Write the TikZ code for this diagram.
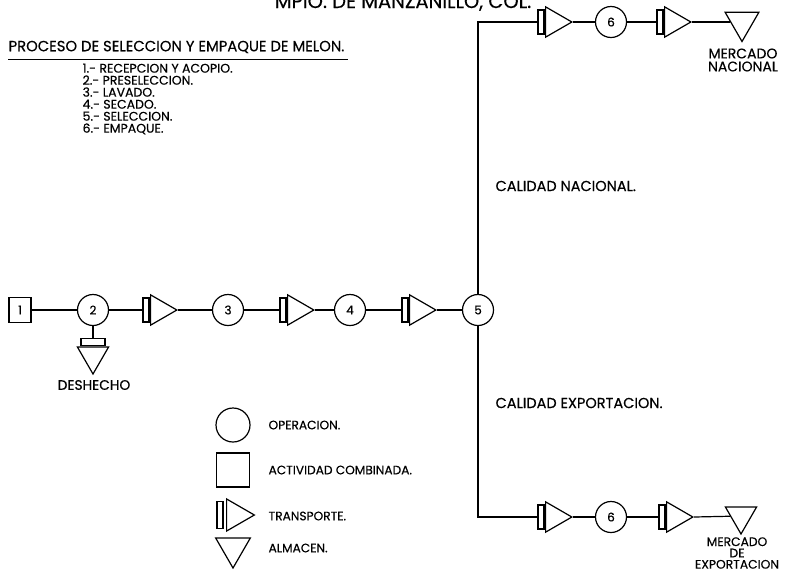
\documentclass[tikz,border=0pt]{standalone}
\usepackage{fontspec}
\setmainfont{Poppins}[FakeBold=0.35]
\usetikzlibrary{shapes.geometric}
\begin{document}
\begin{tikzpicture}[x=1pt,y=-1pt,line width=1.2pt,
  op/.style={circle,draw,minimum size=31pt,inner sep=0pt,font=\fontsize{12}{12}\selectfont},
  actbox/.style={rectangle,draw,inner sep=0pt,font=\fontsize{12}{12}\selectfont},
  vbar/.style={rectangle,draw,minimum width=6pt,minimum height=24pt,inner sep=0pt},
  hbar/.style={rectangle,draw,minimum width=24pt,minimum height=7pt,inner sep=0pt},
  rtri/.style={regular polygon,regular polygon sides=3,shape border rotate=-90,draw,minimum size=35pt,inner sep=0pt,anchor=west},
  dtri/.style={regular polygon,regular polygon sides=3,shape border rotate=180,draw,minimum size=39pt,inner sep=0pt},
  lbl/.style={font=\fontsize{14.5}{15}\selectfont,inner sep=0pt},
  lft/.style={lbl,anchor=west},
  leg/.style={font=\fontsize{12.2}{13}\selectfont,inner sep=0pt,anchor=west},
]
\useasboundingbox (0,0) rectangle (789,571);
\fill[white] (0,0) rectangle (789,571);

% headings
\node[font=\fontsize{19.5}{20}\selectfont,inner sep=0pt,anchor=base] (title) at (403,8) {MPIO. DE MANZANILLO, COL.};
\node[font=\fontsize{14.8}{15}\selectfont,inner sep=0pt,anchor=west] (proc) at (8,47) {PROCESO DE SELECCION Y EMPAQUE DE MELON.};
\coordinate (ulA) at (8,59);
\coordinate (ulB) at (348,59);
\draw[line width=1pt] (ulA) -- (ulB);
\node[anchor=north west,align=left,inner sep=0pt,font=\fontsize{12.5}{12}\selectfont] (list) at (82,63)
 {1.- RECEPCION Y ACOPIO.\\2.- PRESELECCION.\\3.- LAVADO.\\4.- SECADO.\\5.- SELECCION.\\6.- EMPAQUE.};

% main row
\node[actbox,minimum width=22pt,minimum height=25pt] (n1) at (20,310) {1};
\node[op] (n2) at (93,310) {2};
\node[vbar] (b1) at (146,310) {};
\node[rtri] (t1) at (150,310) {};
\node[op] (n3) at (228,310) {3};
\node[vbar] (b2) at (283,310) {};
\node[rtri] (t2) at (287,310) {};
\node[op] (n4) at (350,310) {4};
\node[vbar] (b3) at (405,310) {};
\node[rtri] (t3) at (409,310) {};
\node[op] (n5) at (478,310) {5};

\draw (n1) -- (n2);
\draw (n2) -- (b1);
\draw (t1.east) -- (n3);
\draw (n3) -- (b2);
\draw (t2.east) -- (n4);
\draw (n4) -- (b3);
\draw (t3.east) -- (n5);

% deshecho
\node[hbar] (db) at (93,342) {};
\node[dtri,minimum size=36pt] (dt) at (93,356) {};
\node[lbl,font=\fontsize{13.8}{14}\selectfont] (deslbl) at (94,385) {DESHECHO};
\draw (n2) -- (db);

% top branch
\node[vbar] (tb1) at (541,22) {};
\node[rtri] (tt1) at (545,22) {};
\node[op] (tn6) at (611,22) {6};
\node[vbar] (tb2) at (660,22) {};
\node[rtri] (tt2) at (664,22) {};
\node[dtri] (tst) at (742,22) {};
\node[lbl,align=center,font=\fontsize{14}{13}\selectfont] (nac) at (743,60) {MERCADO\\NACIONAL};
\draw (n5) |- (tb1);
\draw (tt1.east) -- (tn6);
\draw (tn6) -- (tb2);
\draw (tt2.east) -- (tst);

% bottom branch
\node[vbar] (bb1) at (541,517) {};
\node[rtri] (bt1) at (545,517) {};
\node[op] (bn6) at (611,517) {6};
\node[vbar] (bb2) at (662,517) {};
\node[rtri] (bt2) at (666,517) {};
\node[dtri,minimum size=36pt] (bst) at (741,516) {};
\node[lbl,align=center,font=\fontsize{12.3}{11.3}\selectfont] (exp) at (737,553) {MERCADO\\DE\\EXPORTACION};
\draw (n5) |- (bb1);
\draw (bt1.east) -- (bn6);
\draw (bn6) -- (bb2);
\draw (bt2.east) -- (bst);

\node[lft] (calnac) at (495,186) {CALIDAD NACIONAL.};
\node[lft] (calexp) at (495,403) {CALIDAD EXPORTACION.};

% legend
\node[circle,draw,minimum size=34pt,inner sep=0pt] (lop) at (233,425) {};
\node[actbox,minimum width=33pt,minimum height=34pt] (lact) at (233,470) {};
\node[vbar,minimum height=27pt] (lbar) at (220,515) {};
\node[rtri,minimum size=37pt] (ltri) at (226,515) {};
\node[dtri,minimum size=40pt] (lalm) at (233,548) {};
\node[leg] (tlop) at (268,425) {OPERACION.};
\node[leg] (tlact) at (268,470) {ACTIVIDAD COMBINADA.};
\node[leg] (tltr) at (268,516) {TRANSPORTE.};
\node[leg] (tlal) at (268,548) {ALMACEN.};
\end{tikzpicture}
\end{document}
